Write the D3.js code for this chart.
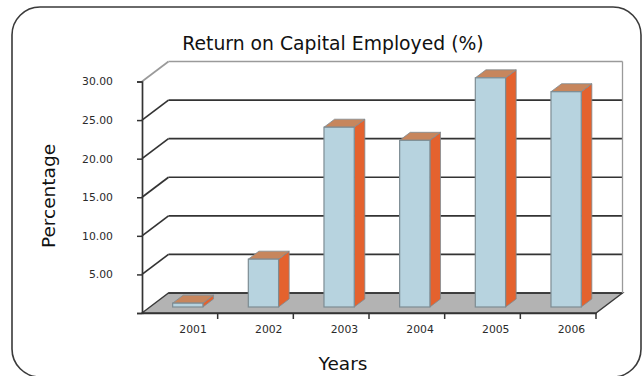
<!DOCTYPE html>
<html><head><meta charset="utf-8">
<script src="https://cdn.jsdelivr.net/npm/d3@7"></script>
<style>html,body{margin:0;padding:0;background:#fff;}svg{display:block;}</style>
</head><body>
<svg id="c" width="642" height="376"></svg>
<script>
const years = ["2001","2002","2003","2004","2005","2006"];
const roce = [0.5, 6.2, 23.3, 21.6, 29.7, 27.9];
const yTicks = [0, 5, 10, 15, 20, 25, 30];
const title = "Return on Capital Employed (%)";
const xTitle = "Years";
const yTitle = "Percentage";

const svg = d3.select("#c");
const font = "DejaVu Sans, Verdana, sans-serif";

// frame
svg.append("rect").attr("x", 12).attr("y", 7).attr("width", 629).attr("height", 370)
  .attr("rx", 28).attr("ry", 28).attr("fill", "#fff").attr("stroke", "#3a3a3a").attr("stroke-width", 1.6);

const x = d3.scaleBand().domain(years).range([142, 596]).padding(0);
const y = d3.scaleLinear().domain([0, 30]).range([313, 81.5]);
const DX = 26.5, DY = -20;
const d0 = 0.3, d1 = 0.7;
const barW = x.bandwidth() * 0.4;

const g = svg.append("g");

// floor
const floor = [[x.range()[0], y(0)], [x.range()[1], y(0)], [x.range()[1] + DX, y(0) + DY], [x.range()[0] + DX, y(0) + DY]];
g.append("path").attr("d", "M" + floor.map(p => p.join(",")).join("L") + "Z")
  .attr("fill", "#b3b3b3").attr("stroke", "#3a3a3a").attr("stroke-width", 1.4);

// gridlines: diagonal + back wall
yTicks.forEach(t => {
  const col = t === 30 ? "#9a9a9a" : "#333";
  if (t > 0) {
    g.append("line").attr("x1", x.range()[0]).attr("y1", y(t)).attr("x2", x.range()[0] + DX).attr("y2", y(t) + DY)
      .attr("stroke", col).attr("stroke-width", 1.7);
  }
  g.append("line").attr("x1", x.range()[0] + DX).attr("y1", y(t) + DY).attr("x2", x.range()[1] + DX).attr("y2", y(t) + DY)
    .attr("stroke", col).attr("stroke-width", 1.7);
});
// back wall right edge
g.append("line").attr("x1", x.range()[1] + DX).attr("y1", y(30) + DY).attr("x2", x.range()[1] + DX).attr("y2", y(0) + DY)
  .attr("stroke", "#9a9a9a").attr("stroke-width", 1.3);

// bars
const bars = g.selectAll("g.bar").data(years.map((k, i) => ({k, v: roce[i]}))).join("g").attr("class", "bar");
bars.each(function(d) {
  const gb = d3.select(this);
  const xl = x(d.k) + (x.bandwidth() - barW) / 2 + d0 * DX;
  const xr = xl + barW;
  const yb = y(0) + d0 * DY;
  const yt = y(d.v) + d0 * DY;
  const ddx = (d1 - d0) * DX, ddy = (d1 - d0) * DY;
  const stroke = "#7d8c93";
  // side
  gb.append("path").attr("d", `M${xr},${yb}L${xr + ddx},${yb + ddy}L${xr + ddx},${yt + ddy}L${xr},${yt}Z`)
    .attr("fill", "#e4622e").attr("stroke", stroke).attr("stroke-width", 0.8);
  // top
  gb.append("path").attr("d", `M${xl},${yt}L${xr},${yt}L${xr + ddx},${yt + ddy}L${xl + ddx},${yt + ddy}Z`)
    .attr("fill", "#c7865d").attr("stroke", stroke).attr("stroke-width", 0.8);
  // front
  gb.append("rect").attr("x", xl).attr("y", yt).attr("width", barW).attr("height", yb - yt)
    .attr("fill", "#b7d3df").attr("stroke", stroke).attr("stroke-width", 1.2);
});

// y axis
const yAxis = d3.axisLeft(y).tickValues(yTicks).tickSize(5).tickPadding(24)
  .tickFormat(v => v === 0 ? "" : d3.format(".2f")(v));
const ya = svg.append("g").attr("transform", `translate(${x.range()[0]},0)`).call(yAxis);
ya.select(".domain").attr("stroke", "#333").attr("stroke-width", 1.7);
ya.selectAll(".tick line").attr("stroke", "#333").attr("stroke-width", 1.5);
ya.selectAll(".tick text").attr("font-family", font).attr("font-size", 10.8).attr("fill", "#2a2a2a");

// x axis
const xAxis = d3.axisBottom(x).tickSize(0).tickPadding(10);
const xa = svg.append("g").attr("transform", `translate(0,${y(0)})`).call(xAxis);
xa.select(".domain").attr("stroke", "#333").attr("stroke-width", 1.7);
xa.selectAll(".tick text").attr("font-family", font).attr("font-size", 10.8).attr("fill", "#2a2a2a")
  .attr("dx", DX / 2).attr("dy", "0.9em");
// boundary ticks
svg.append("g").selectAll("line").data(years).join("line")
  .attr("x1", d => x(d) + x.bandwidth()).attr("x2", d => x(d) + x.bandwidth())
  .attr("y1", y(0)).attr("y2", y(0) + 6).attr("stroke", "#333").attr("stroke-width", 1.5);

// titles
svg.append("text").attr("x", 333).attr("y", 50).attr("text-anchor", "middle")
  .attr("font-family", font).attr("font-size", 18.8).attr("fill", "#111").text(title);
svg.append("text").attr("x", 343).attr("y", 370).attr("text-anchor", "middle")
  .attr("font-family", font).attr("font-size", 18.5).attr("fill", "#111").text(xTitle);
svg.append("text").attr("transform", "translate(55,196) rotate(-90)").attr("text-anchor", "middle")
  .attr("font-family", font).attr("font-size", 18.5).attr("fill", "#111").text(yTitle);
</script>
</body></html>
